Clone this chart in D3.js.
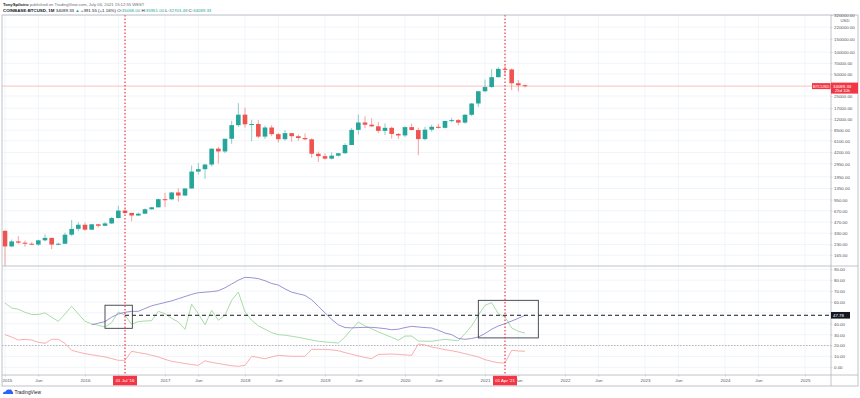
<!DOCTYPE html>
<html>
<head>
<meta charset="utf-8">
<script src="https://cdn.jsdelivr.net/npm/d3@7"></script>
<style>
  body { margin: 0; background: #fff; }
  svg { display: block; font-family: "Liberation Sans", Arial, sans-serif; }
</style>
</head>
<body>
<script>
// monthly candles, Jan 2015 .. Jul 2021 (COINBASE:BTCUSD, 1M)
const opens = [
  355, 217, 254, 244, 236, 230, 263, 284, 230, 236, 314, 377,
  430, 368, 436, 416, 448, 531, 672, 624, 575, 609, 700, 745,
  963, 960, 1190, 1080, 1350, 2300, 2480, 2870, 4740, 4340, 6470, 9950,
  13860, 10220, 10330, 6930, 9240, 7490, 6390, 7730, 7020, 6630, 6370, 4040,
  3740, 3460, 3800, 4100, 5320, 8570, 10820, 10090, 9590, 8300, 9150, 7540,
  7190, 9350, 8530, 6410, 8630, 9450, 9140, 11350, 11660, 10780, 13800, 19700,
  28990, 33110, 45190, 58770, 57720, 37300, 35068
];
const highs = [
  360, 270, 300, 261, 248, 268, 317, 285, 245, 335, 500, 465,
  460, 440, 438, 468, 548, 780, 705, 625, 630, 720, 755, 980,
  1180, 1210, 1350, 1350, 2790, 3000, 2930, 4750, 5000, 6470, 11400, 19890,
  17250, 11790, 11700, 9760, 9990, 7760, 8500, 7760, 7400, 7670, 6570, 4310,
  4100, 4210, 4120, 5620, 9100, 13880, 13180, 12330, 10950, 10540, 9500, 7750,
  9580, 10500, 9190, 9470, 10080, 10380, 11450, 12480, 12080, 14100, 19950, 29300,
  41950, 58350, 61790, 64900, 59590, 41300, 35951
];
const lows = [
  110, 212, 236, 214, 228, 221, 254, 199, 225, 235, 300, 350,
  355, 365, 395, 410, 440, 525, 600, 480, 570, 605, 690, 740,
  750, 930, 890, 1060, 1340, 2100, 1830, 2700, 2970, 4110, 5520, 9400,
  9200, 6000, 6600, 6430, 7030, 5750, 6070, 5880, 6100, 6180, 3560, 3120,
  3350, 3380, 3690, 4050, 5330, 7450, 9080, 9350, 7710, 7300, 6510, 6430,
  6850, 8450, 3850, 6150, 8100, 8900, 8970, 10930, 9880, 10400, 13200, 17600,
  28100, 32300, 44950, 47000, 30000, 28800, 32703.48
];
const closes = [
  217, 254, 244, 236, 230, 263, 284, 230, 236, 314, 377, 430,
  368, 436, 416, 448, 531, 672, 624, 575, 609, 700, 745, 963,
  960, 1190, 1080, 1350, 2300, 2480, 2870, 4740, 4340, 6470, 9950, 13860,
  10220, 10330, 6930, 9240, 7490, 6390, 7730, 7020, 6630, 6370, 4040, 3740,
  3460, 3800, 4100, 5320, 8570, 10820, 10090, 9590, 8300, 9150, 7540, 7190,
  9350, 8530, 6410, 8630, 9450, 9140, 11350, 11660, 10780, 13800, 19700, 28990,
  33110, 45190, 58770, 57720, 37300, 35040, 34089.33
];

// lower pane (DMI style): green, purple, red
const plusDI = [
  59, 54.5, 53.3, 50.5, 48.5, 48.5, 50, 46, 42.2, 49,
  56, 49, 42.2, 40, 38.5, 37, 41, 50.8, 47.8, 39.5,
  42, 42.5, 42.8, 51.4, 49.2, 45, 41.6, 34.9, 57.9, 49.2,
  39.1, 52.3, 43.2, 47.8, 61.5, 69.1, 50.8, 43.2, 38, 35,
  31.8, 30, 29.5, 28.5, 27.5, 26.3, 25, 23.9, 23.3, 22.8,
  22.3, 27.8, 35, 41.6, 38, 35.4, 32.5, 30, 27.5, 24.8,
  28.7, 28.7, 24.1, 24, 23.9, 24.8, 25.7, 25, 24.4, 30.9,
  38, 47.8, 57, 59.4, 49.2, 46.2, 36.1, 33, 31.5
];
const minusDI = [
  30, 27.8, 25, 25.7, 25, 23, 22, 25.7, 25.7, 22,
  15.6, 14, 12.5, 11.5, 10.5, 9.5, 8, 6.4, 6.4, 14.7,
  13.5, 12.5, 11, 9.5, 7.3, 5.5, 4.5, 3.5, 2.5, 1.8,
  6, 4.5, 3.5, 2.4, 1.5, 0.9, 1.8, 10.1, 9, 7.9,
  9.5, 11, 10.5, 10.1, 10.1, 10.1, 16.5, 16.5, 16.5, 16,
  15.2, 13.5, 12, 10.4, 9, 7.9, 11.9, 12, 12.2, 11.8,
  11.4, 11, 21.4, 20.5, 18.6, 17.5, 16.2, 15.2, 14, 12.5,
  11, 9.5, 7, 5.5, 4.2, 3.9, 15.6, 15, 14.7
];
const adx = [
  null, null, null, null, null, null, null, null, null, null, null, null, null,
  39, 40.5, 42, 46, 49, 50.5, 51.4, 51.4, 54, 56.5,
  58, 59.5, 61, 63, 65, 67, 68.5, 69, 69.5, 70.3,
  73, 76.5, 80, 82.6, 82.3, 81.4, 79.5, 77, 75.5, 72,
  69, 67.5, 66, 62, 56, 50, 44, 39, 36.5, 36.2,
  36.5, 36.7, 36.7, 36.2, 35.5, 34.5, 35, 36.5, 37.6, 37,
  36.5, 36.1, 34, 31.5, 30, 26.5, 25.7, 26.5, 27.8, 31,
  35, 38, 40, 42.5, 45, 47.8
];

// axis labels
const priceTicks = [320000, 220000, 150000, 100000, 70000, 50000, 25000, 17000, 12000,
  8500, 6100, 4200, 2950, 1950, 1350, 950, 670, 470, 330, 230, 165];
const oscTicks = [90, 80, 70, 60, 40, 30, 20, 10, 0];
const yearLabels = ["2015", "2016", "2017", "2018", "2019", "2020", "2021", "2022", "2023", "2024", "2025"];

// annotations (month index / indicator value)
const markerMonths = [18, 75];
const markerLabels = ["01 Jul '16", "01 Apr '21"];
const levelValue = 47.78;
const boxes = [
  { i0: 15, i1: 19.1, v0: 35.8, v1: 57 },
  { i0: 71, i1: 80, v0: 27, v1: 61.5 }
];

const W = 860, H = 398;
const plotL = 2, plotR = 831;
const mainT = 15, mainB = 266, oscB = 375, axisB = 386;
const green = "#26a69a", red = "#ef5350", tagRed = "#f23645";
const gridCol = "#eef1f7", borderCol = "#b2b5be", textCol = "#50535e";

const svg = d3.select("body").append("svg").attr("width", W).attr("height", H);

const x = d3.scaleLinear().domain([0, 120]).range([5, 805]);
const y = d3.scaleLog().domain([165, 100000]).range([255.1, 52]);
const yo = d3.scaleLinear().domain([0, 90]).range([367.3, 269.3]);

const defs = svg.append("defs");
defs.append("clipPath").attr("id", "mainClip").append("rect")
  .attr("x", plotL).attr("y", mainT).attr("width", plotR - plotL).attr("height", mainB - mainT);
defs.append("clipPath").attr("id", "oscClip").append("rect")
  .attr("x", plotL).attr("y", mainB).attr("width", plotR - plotL).attr("height", oscB - mainB);

// x ticks: years and June
let xTicks = [], xTickText = {};
yearLabels.forEach((lab, k) => {
  xTicks.push(k * 12); xTickText[k * 12] = lab;
  if (k < 10) { xTicks.push(k * 12 + 5); xTickText[k * 12 + 5] = "Jun"; }
});

// grid
const grid = svg.append("g");
grid.selectAll(".vg").data(xTicks).enter().append("line")
  .attr("x1", d => x(d)).attr("x2", d => x(d))
  .attr("y1", mainT).attr("y2", oscB)
  .attr("stroke", gridCol).attr("stroke-width", 0.8);
grid.selectAll(".hg").data(priceTicks.filter(d => y(d) > mainT)).enter().append("line")
  .attr("x1", plotL).attr("x2", plotR)
  .attr("y1", d => y(d)).attr("y2", d => y(d))
  .attr("stroke", gridCol).attr("stroke-width", 0.8);
grid.selectAll(".og").data(d3.range(0, 100, 10)).enter().append("line")
  .attr("x1", plotL).attr("x2", plotR)
  .attr("y1", d => yo(d)).attr("y2", d => yo(d))
  .attr("stroke", gridCol).attr("stroke-width", 0.8);

// last price line
const lastClose = closes[closes.length - 1];
svg.append("line")
  .attr("x1", plotL).attr("x2", plotR)
  .attr("y1", y(lastClose)).attr("y2", y(lastClose))
  .attr("stroke", "#f7b3b6").attr("stroke-width", 0.8);

// candles
const candles = svg.append("g").attr("clip-path", "url(#mainClip)");
const idx = d3.range(opens.length);
candles.selectAll(".wick").data(idx).enter().append("line")
  .attr("x1", i => x(i)).attr("x2", i => x(i))
  .attr("y1", i => y(highs[i])).attr("y2", i => y(lows[i]))
  .attr("stroke", i => closes[i] >= opens[i] ? green : red)
  .attr("stroke-opacity", 0.6).attr("stroke-width", 0.9);
candles.selectAll(".body").data(idx).enter().append("rect")
  .attr("x", i => x(i) - 2.3).attr("width", 4.6)
  .attr("y", i => Math.min(y(opens[i]), y(closes[i])))
  .attr("height", i => Math.max(1, Math.abs(y(opens[i]) - y(closes[i]))))
  .attr("fill", i => closes[i] >= opens[i] ? green : red);

// lower pane lines
const osc = svg.append("g").attr("clip-path", "url(#oscClip)");
osc.append("line")
  .attr("x1", plotL).attr("x2", plotR).attr("y1", yo(20)).attr("y2", yo(20))
  .attr("stroke", "#a3a6af").attr("stroke-width", 0.8).attr("stroke-dasharray", "1.5,1.5");
const line = d3.line().defined(d => d != null).x((d, i) => x(i)).y(d => yo(d));
[[minusDI, "#f8a5a7"], [plusDI, "#9fd89d"], [adx, "#8f86cf"]].forEach(([s, c]) => {
  osc.append("path").datum(s).attr("d", line)
    .attr("fill", "none").attr("stroke", c).attr("stroke-width", 0.9);
});
osc.append("line")
  .attr("x1", x(markerMonths[0])).attr("x2", plotR)
  .attr("y1", yo(levelValue)).attr("y2", yo(levelValue))
  .attr("stroke", "#131722").attr("stroke-width", 1).attr("stroke-dasharray", "4,3");
osc.selectAll(".box").data(boxes).enter().append("rect")
  .attr("x", d => x(d.i0)).attr("width", d => x(d.i1) - x(d.i0))
  .attr("y", d => yo(d.v1)).attr("height", d => yo(d.v0) - yo(d.v1))
  .attr("fill", "none").attr("stroke", "#3b3d45").attr("stroke-width", 0.9);

// vertical markers
svg.selectAll(".marker").data(markerMonths).enter().append("line")
  .attr("x1", d => x(d)).attr("x2", d => x(d))
  .attr("y1", mainT).attr("y2", oscB)
  .attr("stroke", tagRed).attr("stroke-width", 1.2).attr("stroke-dasharray", "1.5,2");

// frame
const frame = svg.append("g").attr("stroke", borderCol).attr("stroke-width", 0.8).attr("fill", "none");
frame.append("rect").attr("x", plotL).attr("y", mainT).attr("width", W - 2 - plotL).attr("height", axisB - mainT);
frame.append("line").attr("x1", plotR).attr("x2", plotR).attr("y1", mainT).attr("y2", axisB);
frame.append("line").attr("x1", plotL).attr("x2", W - 2).attr("y1", mainB).attr("y2", mainB);
frame.append("line").attr("x1", plotL).attr("x2", W - 2).attr("y1", oscB).attr("y2", oscB);

// right price axis
const styleAxis = g => {
  g.select(".domain").remove();
  g.selectAll(".tick line").attr("stroke", borderCol).attr("stroke-width", 0.6);
  g.selectAll(".tick text").attr("fill", textCol).attr("font-size", 4.4);
};
svg.append("g").attr("transform", `translate(${plotR},0)`)
  .call(d3.axisRight(y).tickValues(priceTicks).tickSize(1.5).tickPadding(1.5).tickFormat(d => d.toFixed(2)))
  .call(styleAxis);
svg.append("text").attr("x", 845).attr("y", 21.5).attr("text-anchor", "middle")
  .attr("font-size", 4.2).attr("fill", textCol).text("USD");
svg.append("g").attr("transform", `translate(${plotR},0)`)
  .call(d3.axisRight(yo).tickValues(oscTicks).tickSize(1.5).tickPadding(1.5).tickFormat(d => d.toFixed(2)))
  .call(styleAxis);

// bottom time axis; labels under a marker tag are hidden, as in the original
const xAxis = svg.append("g").attr("transform", `translate(0,${oscB})`)
  .call(d3.axisBottom(x).tickValues(xTicks).tickSize(1.5).tickPadding(2.5).tickFormat(d => xTickText[d]))
  .call(styleAxis);
xAxis.selectAll(".tick text")
  .attr("text-anchor", d => d === 0 ? "start" : "middle")
  .attr("dx", d => d === 0 ? -3 : 0)
  .attr("display", d => markerMonths.some(m => Math.abs(x(m) - x(d)) < 12) ? "none" : null);

// marker tags on time axis
const mt = svg.selectAll(".mtag").data(markerMonths).enter().append("g")
  .attr("transform", d => `translate(${x(d)},${oscB})`);
mt.append("rect").attr("x", -12).attr("y", 0.8).attr("width", 24).attr("height", 9.5).attr("fill", tagRed);
mt.append("text").attr("y", 7.3).attr("text-anchor", "middle").attr("font-size", 4.4).attr("fill", "#fff")
  .text((d, k) => markerLabels[k]);

// last price tag
const ly = y(lastClose);
svg.append("rect").attr("x", plotR).attr("y", ly - 3.5).attr("width", 27).attr("height", 11).attr("fill", tagRed);
svg.append("text").attr("x", plotR + 2).attr("y", ly + 1.5).attr("font-size", 4.4).attr("fill", "#fff")
  .text(lastClose.toFixed(2));
svg.append("text").attr("x", plotR + 4).attr("y", ly + 6.3).attr("font-size", 4.2).attr("fill", "#fff")
  .text("25d 10h");
svg.append("rect").attr("x", plotR - 19).attr("y", ly - 3).attr("width", 18.5).attr("height", 6).attr("fill", tagRed);
svg.append("text").attr("x", plotR - 9.8).attr("y", ly + 1.4).attr("text-anchor", "middle")
  .attr("font-size", 4).attr("fill", "#fff").text("BTCUSD");

// level tag
svg.append("rect").attr("x", plotR).attr("y", yo(levelValue) - 3.3).attr("width", 19).attr("height", 6.6).attr("fill", "#131722");
svg.append("text").attr("x", plotR + 2).attr("y", yo(levelValue) + 1.6).attr("font-size", 4.4).attr("fill", "#fff")
  .text(levelValue.toFixed(2));

// header
const h1 = svg.append("text").attr("x", 3).attr("y", 5.5).attr("font-size", 4.2).attr("fill", "#6a6d78");
h1.append("tspan").attr("font-weight", "bold").attr("fill", "#131722").text("TonySpilotro");
h1.append("tspan").text(" published on TradingView.com, July 06, 2021 15:12:55 WEST");
const h2 = svg.append("text").attr("x", 3).attr("y", 11.5).attr("font-size", 4.4).attr("fill", "#131722");
h2.append("tspan").attr("font-weight", "bold").text("COINBASE:BTCUSD, 1M");
h2.append("tspan").text(" 34089.33 ");
h2.append("tspan").attr("fill", green).text("▲");
h2.append("tspan").text(" +391.55 (+1.16%) O:");
h2.append("tspan").attr("fill", green).text("35068.00");
h2.append("tspan").text(" H:");
h2.append("tspan").attr("fill", green).text("35951.00");
h2.append("tspan").text(" L:");
h2.append("tspan").attr("fill", green).text("32703.48");
h2.append("tspan").text(" C:");
h2.append("tspan").attr("fill", green).text("34089.33");

// footer logo
const logo = svg.append("g").attr("transform", "translate(3,389)");
logo.append("path")
  .attr("d", "M0,5 C0,3 1.5,2.2 2.8,2.6 C3.2,0.8 5,0 6.3,0.8 C7.3,0 9,0.6 9,2.2 C10,2.4 10.4,3.6 10,5 Z")
  .attr("fill", "#2962ff");
logo.append("text").attr("x", 11.5).attr("y", 5.2).attr("font-size", 4.8).attr("fill", "#131722").text("TradingView");
</script>
</body>
</html>
